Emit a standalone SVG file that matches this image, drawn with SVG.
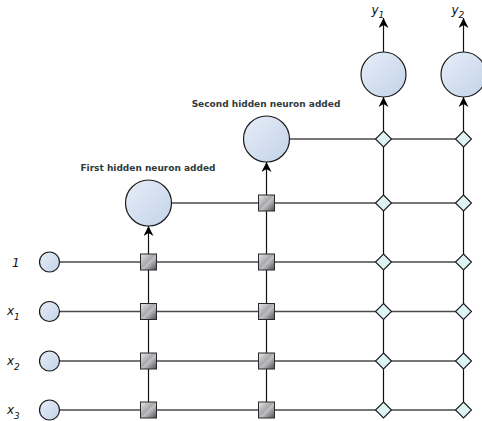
<svg xmlns="http://www.w3.org/2000/svg" width="482" height="421" viewBox="0 0 482 421">
<style>
.neuron{stroke:#1a1a1a;stroke-width:1.2;fill:url(#gBlue)}
.sq{stroke:#2a2a2a;stroke-width:1;fill:url(#gGray)}
.dm{stroke:#1a1a1a;stroke-width:1.1;fill:#def3f8}
.h{stroke:#4a4a4a;stroke-width:1.3;fill:none}
.v{stroke:#111;stroke-width:1.2;fill:none}
.lbl{font-family:"DejaVu Sans",sans-serif;font-weight:bold;font-size:9px;fill:#2e3b3b}
.var{font-family:"DejaVu Sans",sans-serif;font-style:italic;font-size:12px;fill:#111}
.sub{font-size:9px}
</style>
<defs>
<linearGradient id="gBlue" x1="0" y1="0" x2="1" y2="1">
<stop offset="0" stop-color="#e6edf7"/>
<stop offset="1" stop-color="#c3d3ea"/>
</linearGradient>
<linearGradient id="gGray" x1="0" y1="0" x2="1" y2="1">
<stop offset="0" stop-color="#e8e8e8"/>
<stop offset="0.45" stop-color="#a9a9ad"/>
<stop offset="0.55" stop-color="#c0c0c4"/>
<stop offset="1" stop-color="#4e4e52"/>
</linearGradient>
<marker id="arr" viewBox="0 0 10 10" refX="10" refY="5" markerWidth="10" markerHeight="10" markerUnits="userSpaceOnUse" orient="auto">
<path d="M0,0 L10,5 L0,10 L3,5 Z" fill="#000"/>
</marker>
</defs>

<g id="connectors">
<line class="h" x1="59" y1="262" x2="463" y2="262"/>
<line class="h" x1="59" y1="311.5" x2="463" y2="311.5"/>
<line class="h" x1="59" y1="361" x2="463" y2="361"/>
<line class="h" x1="59" y1="410" x2="463" y2="410"/>
<line class="h" x1="172" y1="203" x2="463" y2="203"/>
<line class="h" x1="290" y1="139" x2="463" y2="139"/>
<line class="v" x1="148.5" y1="410" x2="148.5" y2="226" marker-end="url(#arr)"/>
<line class="v" x1="266.5" y1="410" x2="266.5" y2="162" marker-end="url(#arr)"/>
<line class="v" x1="383.5" y1="410" x2="383.5" y2="97" marker-end="url(#arr)"/>
<line class="v" x1="463.5" y1="410" x2="463.5" y2="97" marker-end="url(#arr)"/>
<line class="v" x1="383.5" y1="52" x2="383.5" y2="18" marker-end="url(#arr)"/>
<line class="v" x1="463.5" y1="52" x2="463.5" y2="18" marker-end="url(#arr)"/>
</g>

<g id="input-1"><circle class="neuron" cx="49.5" cy="262" r="10"/><text class="var" x="12" y="266.5">1</text></g>
<g id="input-x1"><circle class="neuron" cx="49.5" cy="311.5" r="10"/><text class="var" x="7" y="315">x<tspan class="sub" dy="5">1</tspan></text></g>
<g id="input-x2"><circle class="neuron" cx="49.5" cy="361" r="10"/><text class="var" x="7" y="364.5">x<tspan class="sub" dy="5">2</tspan></text></g>
<g id="input-x3"><circle class="neuron" cx="49.5" cy="410" r="10"/><text class="var" x="7" y="413.5">x<tspan class="sub" dy="5">3</tspan></text></g>

<g id="hidden-1"><circle class="neuron" cx="148.5" cy="203" r="23"/><text class="lbl" x="148" y="171" text-anchor="middle">First hidden neuron added</text></g>
<g id="hidden-2"><circle class="neuron" cx="266.5" cy="139" r="23"/><text class="lbl" x="266" y="107" text-anchor="middle">Second hidden neuron added</text></g>

<g id="output-y1"><circle class="neuron" cx="383.5" cy="74.5" r="22.5"/><text class="var" x="371.5" y="14">y<tspan class="sub" dy="4">1</tspan></text></g>
<g id="output-y2"><circle class="neuron" cx="463.5" cy="74.5" r="22.5"/><text class="var" x="451.5" y="14">y<tspan class="sub" dy="4">2</tspan></text></g>

<g id="weights-h1">
<rect class="sq" x="140.5" y="254" width="16" height="16"/>
<rect class="sq" x="140.5" y="303.5" width="16" height="16"/>
<rect class="sq" x="140.5" y="353" width="16" height="16"/>
<rect class="sq" x="140.5" y="402" width="16" height="16"/>
</g>
<g id="weights-h2">
<rect class="sq" x="258.5" y="195" width="16" height="16"/>
<rect class="sq" x="258.5" y="254" width="16" height="16"/>
<rect class="sq" x="258.5" y="303.5" width="16" height="16"/>
<rect class="sq" x="258.5" y="353" width="16" height="16"/>
<rect class="sq" x="258.5" y="402" width="16" height="16"/>
</g>
<g id="weights-out">
<path class="dm" d="M383.5,131 l8,8 l-8,8 l-8,-8 Z"/>
<path class="dm" d="M383.5,195 l8,8 l-8,8 l-8,-8 Z"/>
<path class="dm" d="M383.5,254 l8,8 l-8,8 l-8,-8 Z"/>
<path class="dm" d="M383.5,303.5 l8,8 l-8,8 l-8,-8 Z"/>
<path class="dm" d="M383.5,353 l8,8 l-8,8 l-8,-8 Z"/>
<path class="dm" d="M383.5,402 l8,8 l-8,8 l-8,-8 Z"/>
<path class="dm" d="M463.5,131 l8,8 l-8,8 l-8,-8 Z"/>
<path class="dm" d="M463.5,195 l8,8 l-8,8 l-8,-8 Z"/>
<path class="dm" d="M463.5,254 l8,8 l-8,8 l-8,-8 Z"/>
<path class="dm" d="M463.5,303.5 l8,8 l-8,8 l-8,-8 Z"/>
<path class="dm" d="M463.5,353 l8,8 l-8,8 l-8,-8 Z"/>
<path class="dm" d="M463.5,402 l8,8 l-8,8 l-8,-8 Z"/>
</g>
</svg>
